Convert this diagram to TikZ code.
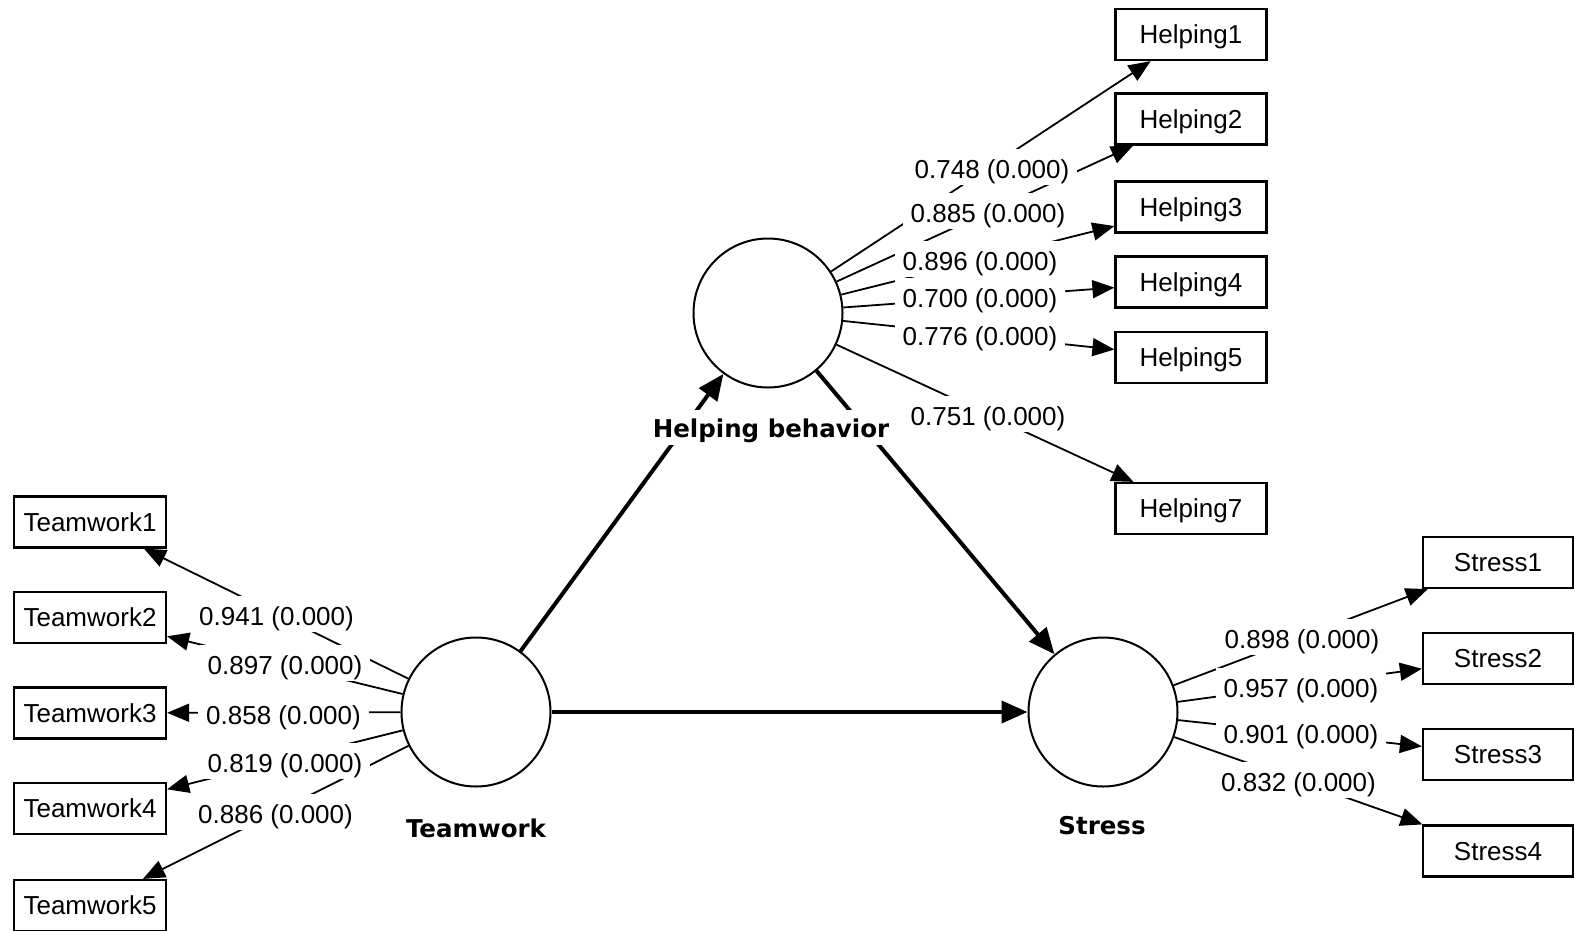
\documentclass[tikz,border=0pt]{standalone}
\usepackage{fontspec}
\setmainfont{Liberation Sans}
\newfontfamily\latentfont{DejaVu Sans}
\usetikzlibrary{arrows.meta}
\begin{document}
\begin{tikzpicture}[x=1pt,y=-1pt,
  indicator/.style={draw, line width=2.2pt, fill=white, minimum width=151pt,
    minimum height=51pt, inner sep=0pt, text height=18.6pt, text depth=0pt,
    font=\fontsize{26}{30}\selectfont},
  latent/.style={draw, circle, line width=2pt, fill=white, minimum size=149pt, inner sep=0pt},
  latentlabel/.style={font=\latentfont\bfseries\fontsize{24.5}{28}\selectfont, fill=white,
    anchor=base, text height=27pt, text depth=8pt, inner ysep=0pt, inner xsep=6pt},
  coef/.style={font=\fontsize{26}{30}\selectfont, fill=white, anchor=base,
    text height=29pt, text depth=6.5pt, inner ysep=0pt, inner xsep=8pt},
  loading/.style={line width=1.8pt, -{Triangle[length=22pt,width=18pt]}},
  structural/.style={line width=4pt, -{Triangle[length=26pt,width=22pt]}},
]
\useasboundingbox (0,0) rectangle (1575,930);

% latent variables
\node[latent] (hb) at (768,313) {};
\node[latent] (tw) at (476,712) {};
\node[latent] (st) at (1103,712) {};

% helping behavior indicators
\node[indicator] (h1) at (1191,34.5) {Helping1};
\node[indicator] (h2) at (1191,119) {Helping2};
\node[indicator] (h3) at (1191,207) {Helping3};
\node[indicator] (h4) at (1191,282) {Helping4};
\node[indicator] (h5) at (1191,357.5) {Helping5};
\node[indicator] (h7) at (1191,508.5) {Helping7};

% teamwork indicators
\node[indicator, minimum width=152pt] (t1) at (90,522) {Teamwork1};
\node[indicator, minimum width=152pt] (t2) at (90,617.5) {Teamwork2};
\node[indicator, minimum width=152pt] (t3) at (90,713) {Teamwork3};
\node[indicator, minimum width=152pt] (t4) at (90,808.5) {Teamwork4};
\node[indicator, minimum width=152pt] (t5) at (90,905.5) {Teamwork5};

% stress indicators
\node[indicator, minimum width=150pt] (s1) at (1498,562.5) {Stress1};
\node[indicator, minimum width=150pt] (s2) at (1498,658.5) {Stress2};
\node[indicator, minimum width=150pt] (s3) at (1498,754.5) {Stress3};
\node[indicator, minimum width=150pt] (s4) at (1498,851) {Stress4};

% outer loadings
\foreach \t in {h1,h2,h3,h4,h5,h7} \draw[loading] (hb) -- (\t);
\foreach \t in {t1,t2,t3,t4,t5} \draw[loading] (tw) -- (\t);
\foreach \t in {s1,s2,s3,s4} \draw[loading] (st) -- (\t);

% structural paths
\draw[structural] (tw) -- (hb);
\draw[structural] (hb) -- (st);
\draw[structural] (tw) -- (st);

% coefficient labels
\node[coef] (lh1) at (992,178) {0.748 (0.000)};
\node[coef] (lh2) at (988,222) {0.885 (0.000)};
\node[coef] (lh3) at (980,270) {0.896 (0.000)};
\node[coef] (lh4) at (980,307) {0.700 (0.000)};
\node[coef] (lh5) at (980,345) {0.776 (0.000)};
\node[coef] (lh7) at (988,425) {0.751 (0.000)};

\node[coef] (lt1) at (276.5,625) {0.941 (0.000)};
\node[coef] (lt2) at (285,674) {0.897 (0.000)};
\node[coef] (lt3) at (283.5,724) {0.858 (0.000)};
\node[coef] (lt4) at (285,772) {0.819 (0.000)};
\node[coef] (lt5) at (275.5,823) {0.886 (0.000)};

\node[coef] (ls1) at (1302,648) {0.898 (0.000)};
\node[coef] (ls2) at (1301,697) {0.957 (0.000)};
\node[coef] (ls3) at (1301,743) {0.901 (0.000)};
\node[coef] (ls4) at (1298.5,791) {0.832 (0.000)};

% latent variable names
\node[latentlabel] (nhb) at (771,437) {Helping behavior};
\node[latentlabel] (ntw) at (476,837) {Teamwork};
\node[latentlabel] (nst) at (1102,834) {Stress};
\end{tikzpicture}
\end{document}
